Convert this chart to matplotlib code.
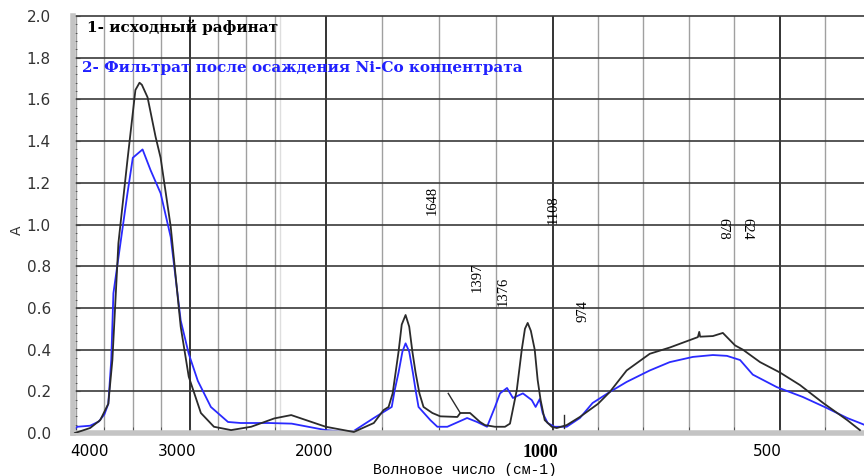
import numpy as np
import matplotlib
matplotlib.use('Agg')
import matplotlib.pyplot as plt
from matplotlib.transforms import ScaledTranslation

# curve 1 - исходный рафинат (black)
wn_raf = [4010, 3876, 3787, 3716, 3680, 3627, 3547, 3477, 3441, 3420, 3370, 3299, 3255,
          3166, 3078, 3007, 2900, 2785, 2634, 2457, 2253, 2152, 2000, 1876, 1788, 1745,
          1723, 1705, 1692, 1679, 1665, 1648, 1632, 1618, 1604, 1587, 1569, 1530, 1495,
          1420, 1407, 1364, 1320, 1298, 1254, 1210, 1188, 1158, 1136, 1122, 1110, 1096,
          1079, 1066, 1053, 1035, 1004, 991, 969, 940, 900, 874,
          837, 786, 742, 680, 677, 675, 647, 625, 598, 581, 543, 499, 455, 404, 351, 323]
a_raf = [0.0, 0.024, 0.062, 0.14, 0.35, 0.91, 1.31, 1.645, 1.68, 1.67, 1.61, 1.42, 1.32,
         0.99, 0.51, 0.27, 0.096, 0.03, 0.014, 0.03, 0.07, 0.086, 0.03, 0.005, 0.048, 0.11,
         0.125, 0.19, 0.29, 0.39, 0.52, 0.566, 0.51, 0.39, 0.29, 0.19, 0.125, 0.096, 0.08,
         0.077, 0.096, 0.096, 0.053, 0.038, 0.03, 0.03, 0.045, 0.206, 0.40, 0.50, 0.528, 0.49,
         0.40, 0.254, 0.158, 0.062, 0.03, 0.024, 0.038, 0.077, 0.14,
         0.197, 0.30, 0.38, 0.41, 0.46, 0.485, 0.462, 0.465, 0.48, 0.42, 0.40, 0.34, 0.29,
         0.23, 0.144, 0.062, 0.014]

# curve 2 - фильтрат (blue)
wn_filt = [4010, 3990, 3876, 3800, 3750, 3716, 3690, 3671, 3609, 3547, 3500, 3414, 3343,
           3255, 3166, 3078, 3007, 2927, 2812, 2661, 2550, 2300, 2150, 2000, 1933, 1876,
           1788, 1709, 1697, 1679, 1662, 1648, 1632, 1616, 1603, 1591, 1539, 1508, 1464,
           1377, 1333, 1289, 1254, 1232, 1201, 1175, 1131, 1092, 1075, 1057, 1044, 1022,
           996, 969, 940, 912,
           874, 837, 786, 742, 691, 647, 616, 587, 559, 506, 449, 396, 351, 323, 314]
a_filt = [0.02, 0.03, 0.035, 0.055, 0.09, 0.14, 0.35, 0.67, 0.91, 1.15, 1.32, 1.36, 1.26,
          1.15, 0.94, 0.54, 0.38, 0.25, 0.125, 0.053, 0.048, 0.048, 0.045, 0.014, 0.008, 0.01,
          0.072, 0.125, 0.2, 0.29, 0.39, 0.43, 0.39, 0.29, 0.2, 0.125, 0.062, 0.03, 0.03,
          0.072, 0.053, 0.03, 0.125, 0.19, 0.216, 0.168, 0.19, 0.158, 0.125, 0.163, 0.096, 0.048,
          0.03, 0.03, 0.072, 0.144,
          0.197, 0.245, 0.30, 0.34, 0.365, 0.374, 0.37, 0.35, 0.28, 0.22, 0.173, 0.12,
          0.072, 0.048, 0.04]

# little peak-marker strokes drawn by the spectrometer software
mark1_wn = [1460, 1407]
mark1_a = [0.19, 0.096]
mark2_wn = [974, 974]
mark2_a = [0.086, 0.024]

# peak labels: text, x, y, rotation
peak_txt = ['1648', '1397', '1376', '1108', '974', '678', '624']
peak_x = [1530, 1333, 1219, 998, 934, 625, 572]
peak_y = [1.117, 0.748, 0.681, 1.07, 0.585, 0.978, 0.978]
peak_rot = [90, 90, 90, 90, 90, -90, -90]

xticks = [4000, 3000, 2000, 1000, 500]
xtick_labels = ['4000', '3000', '2000', '1000', '500']
xgrid_major = [3000, 2000, 1000, 500]
xgrid_minor = [4000, 3750, 3500, 3250, 2750, 2500, 2250, 1750, 1500, 1250,
               900, 800, 700, 600, 400]
yticks = np.arange(0, 2.01, 0.2)


# split wavenumber axis: x1 above 2200, x2 from 2200 to 1000, x4 below 1000
def fwd(w):
    return np.interp(w, [0, 1000, 2200, 10000], [0, 4000, 6400, 14200])


def inv(u):
    return np.interp(u, [0, 4000, 6400, 14200], [0, 1000, 2200, 10000])


fig = plt.figure(figsize=(8.64, 4.76), dpi=100)
ax = fig.add_axes([0.0845, 0.0903, 0.9155, 0.8761])
ax.set_xscale('function', functions=(fwd, inv))
ax.set_xlim(4027, 314)
ax.set_ylim(0, 2.0)

# grid
for x in xgrid_minor:
    ax.axvline(x, color='#a0a0a0', lw=1.0, zorder=1)
ax.axvline(2200, color='#dedede', lw=1.0, zorder=1)
for x in xgrid_major:
    ax.axvline(x, color='#111111', lw=1.2, zorder=1)
for y in yticks[1:]:
    ax.axhline(y, color='#3a3a3a', lw=1.2, zorder=1, clip_on=False)

ax.plot(wn_raf, a_raf, color='#2b2b2b', lw=1.3, zorder=3)
ax.plot(wn_filt, a_filt, color='#2a2aff', lw=1.3, zorder=2)
ax.plot(mark1_wn, mark1_a, color='#2b2b2b', lw=1.0, zorder=3)
ax.plot(mark2_wn, mark2_a, color='#2b2b2b', lw=1.0, zorder=3)

for t, x, y, r in zip(peak_txt, peak_x, peak_y, peak_rot):
    ax.text(x, y, t, rotation=r, ha='center', va='center', fontsize=10.5,
            family='Liberation Serif', color='black')

ax.text(0.0177, 0.9736, '1- исходный рафинат', transform=ax.transAxes,
        fontsize=11, fontweight='bold', family='DejaVu Serif', color='black', va='center')
ax.text(0.0114, 0.875, '2- Фильтрат после осаждения Ni-Co концентрата',
        transform=ax.transAxes, fontsize=11, fontweight='bold', family='DejaVu Serif',
        color='#2020ff', va='center')

# axes / ticks
for s in ['top', 'right']:
    ax.spines[s].set_visible(False)
for s in ['left', 'bottom']:
    ax.spines[s].set_color('#c4c4c4')
    ax.spines[s].set_linewidth(4)

ax.set_xticks(xticks)
ax.set_xticklabels(xtick_labels)
ax.set_xticks(xgrid_minor, minor=True)
ax.set_yticks(yticks)
ax.set_yticklabels(['%.1f' % v for v in yticks])
ax.set_yticks(np.arange(0, 2.001, 0.04), minor=True)
ax.tick_params(axis='both', which='both', direction='in', color='#444444')
ax.tick_params(axis='y', which='major', length=5, labelsize=11, labelcolor='#333333', pad=16)
ax.tick_params(axis='y', which='minor', length=3)
ax.tick_params(axis='x', which='major', length=4, labelsize=11, pad=8)
ax.tick_params(axis='x', which='minor', length=4)

for lab in ax.get_xticklabels():
    dx = 13 if lab.get_text() == '4000' else -12
    lab.set_transform(lab.get_transform() + ScaledTranslation(dx / 100, 0, fig.dpi_scale_trans))
    if lab.get_text() == '1000':
        lab.set_family('Liberation Serif')
        lab.set_fontweight('bold')
        lab.set_fontsize(13)

ax.set_ylabel('A', fontsize=10, color='#333333')
ax.yaxis.set_label_coords(-0.062, 0.487)
ax.set_xlabel('Волновое число (см-1)', fontsize=10.5, family='Liberation Mono')
ax.xaxis.set_label_coords(0.496, -0.072)

fig.savefig('out.png', dpi=100)
